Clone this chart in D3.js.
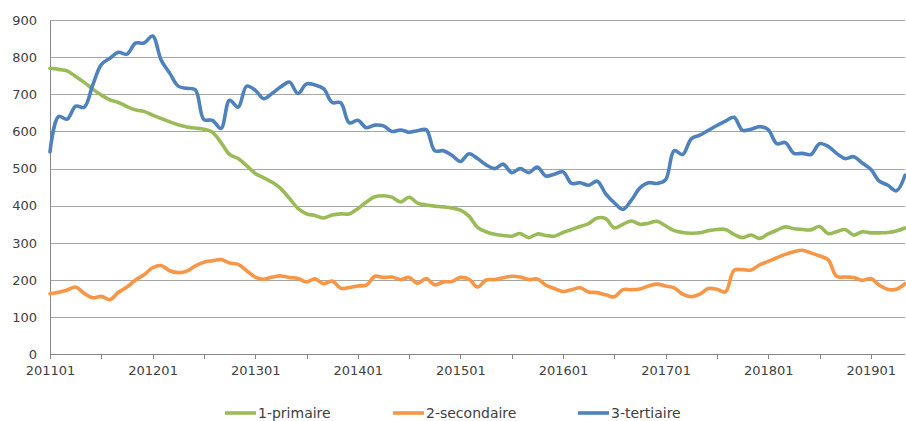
<!DOCTYPE html>
<html><head><meta charset="utf-8">
<script src="https://cdn.jsdelivr.net/npm/d3@7/dist/d3.min.js"></script>
<style>
body{margin:0;background:#fff;}
svg text{font-family:"DejaVu Sans",Verdana,sans-serif;fill:#404040;}
</style></head>
<body><svg id="c" width="906" height="421"></svg>
<script>
// Categories: months 201101 .. 201905
const years = [2011,2012,2013,2014,2015,2016,2017,2018,2019];
const months = [];
years.forEach(yr => { for (let m = 1; m <= 12; m++) { if (yr === 2019 && m > 5) break; months.push(String(yr) + String(m).padStart(2,"0")); } });

const yTicks = [0,100,200,300,400,500,600,700,800,900];
const seriesNames = ["1-primaire","2-secondaire","3-tertiaire"];
const seriesColors = ["#9bbb59","#f79646","#4f81bd"];

const primaire = [770,767,763,748,732,714,698,685,678,667,658,654,644,635,626,618,612,609,606,598,
 570,538,527,508,487,475,463,446,420,393,378,374,367,375,378,378,392,410,424,427,
 423,410,423,407,402,399,397,394,388,372,342,330,323,320,318,325,314,324,320,318,
 328,336,344,352,367,365,340,350,359,350,353,358,346,333,328,326,327,333,336,336,
 323,314,321,312,324,334,343,338,336,335,344,325,330,336,321,330,327,327,328,332,340];

const secondaire = [163,167,173,181,164,152,156,147,167,181,200,214,233,239,225,220,224,238,248,252,
 255,246,242,225,208,202,208,211,207,204,195,203,190,197,178,180,184,186,210,207,
 208,201,207,191,204,187,195,196,207,202,181,200,201,206,210,208,201,203,186,177,
 169,174,179,168,166,160,155,174,174,176,184,189,184,179,162,155,162,177,175,168,
 226,228,227,241,250,260,269,276,280,273,265,255,210,208,207,199,204,186,175,175,190];

const tertiaire = [545,640,633,668,665,725,780,797,813,808,838,838,857,792,757,722,716,712,632,630,
 608,684,665,722,711,688,703,720,733,702,728,725,715,678,677,623,630,610,617,615,
 600,604,598,602,605,548,548,536,519,540,527,510,500,512,489,500,489,504,480,485,
 491,460,462,455,466,432,408,390,415,448,462,460,470,548,538,580,590,603,616,628,
 638,603,606,613,605,567,570,541,541,538,567,560,541,527,532,515,498,466,455,440,482];

const seriesValues = [primaire, secondaire, tertiaire];

const svg = d3.select("#c");
const mLeft = 50, mRight = 905, mTop = 20, mBottom = 354.3;

const x = d3.scalePoint().domain(months).range([mLeft, mRight]);
const y = d3.scaleLinear().domain([0, 900]).range([mBottom, mTop]);

// gridlines
svg.append("g").attr("transform", `translate(${mLeft},0)`)
  .call(d3.axisLeft(y).tickValues(yTicks).tickSize(-(mRight-mLeft)).tickFormat(""))
  .call(g => g.select(".domain").remove())
  .call(g => g.selectAll("line").attr("stroke", "#a6a6a6").attr("stroke-width", 1).attr("shape-rendering","crispEdges"));

// y labels
svg.append("g").attr("transform", `translate(${mLeft},0)`)
  .call(d3.axisLeft(y).tickValues(yTicks).tickSize(0).tickPadding(13))
  .call(g => g.select(".domain").attr("stroke", "#868686").attr("shape-rendering","crispEdges"))
  .call(g => g.selectAll("text").attr("font-size", 13).attr("fill", "#404040"));

// x axis
const tickMonths = months.filter((m, i) => i % 6 === 0);
svg.append("g").attr("transform", `translate(0,${mBottom})`)
  .call(d3.axisBottom(x).tickValues(tickMonths).tickSize(5).tickPadding(6)
    .tickFormat(d => d.endsWith("01") ? d : ""))
  .call(g => g.select(".domain").attr("stroke", "#868686").attr("d", `M${mLeft},0.5H${mRight}`).attr("shape-rendering","crispEdges"))
  .call(g => g.selectAll("line").attr("stroke", "#868686").attr("shape-rendering","crispEdges"))
  .call(g => g.selectAll("text").attr("font-size", 13).attr("fill", "#404040"));

// lines
const line = d3.line().x((d, i) => x(months[i])).y(d => y(d)).curve(d3.curveCatmullRom.alpha(0.5));
seriesValues.forEach((vals, k) => {
  svg.append("path").datum(vals).attr("d", line)
    .attr("fill", "none").attr("stroke", seriesColors[k]).attr("stroke-width", 3.6)
    .attr("stroke-linejoin", "round").attr("stroke-linecap", "round");
});

// legend
const legendX = [225, 393, 578];
seriesNames.forEach((name, k) => {
  const g = svg.append("g").attr("transform", `translate(${legendX[k]},413)`);
  g.append("line").attr("x1", 0).attr("x2", 31).attr("y1", 0).attr("y2", 0)
    .attr("stroke", seriesColors[k]).attr("stroke-width", 3.6);
  g.append("text").attr("x", 33).attr("y", 5).attr("font-size", 14).attr("fill", "#262626").text(name);
});
</script>
</body></html>
